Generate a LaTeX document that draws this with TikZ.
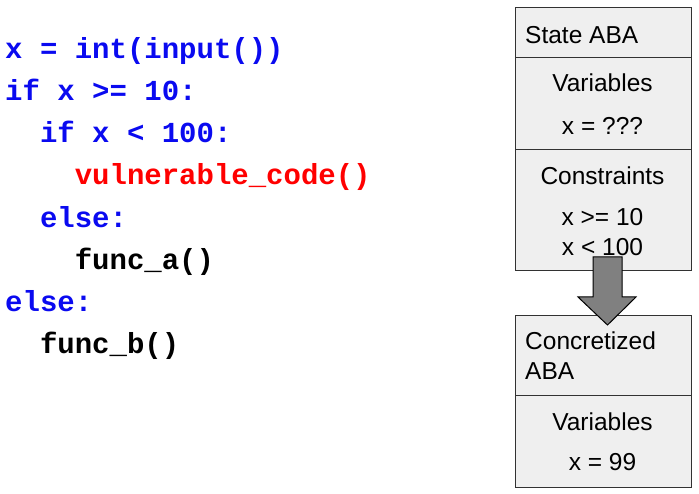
\documentclass[tikz,border=0pt]{standalone}
\usepackage{fontspec}
\setmainfont{Liberation Sans}
\newfontfamily\codefont{Liberation Mono}
\definecolor{codeblue}{RGB}{10,10,240}
\definecolor{codered}{RGB}{255,0,0}
\definecolor{boxfill}{RGB}{239,239,239}
\definecolor{boxline}{RGB}{50,50,50}
\definecolor{arrowfill}{RGB}{128,128,128}
\tikzset{
  code/.style={anchor=base west, inner sep=0pt, font=\codefont\bfseries\fontsize{29}{29}\selectfont},
  lbl/.style={inner sep=0pt, font=\fontsize{24.5}{24.5}\selectfont},
  sect/.style={draw=boxline, line width=1pt, fill=boxfill, minimum width=176pt, anchor=north west, inner sep=0pt},
  bigarrow/.style={draw=black, line width=1pt, fill=arrowfill, line join=miter}
}
\begin{document}
\begin{tikzpicture}[x=1pt,y=-1pt]
\useasboundingbox (0,0) rectangle (699,494);
% code
\node[code, text=codeblue] (l1) at (5,58.3) {x = int(input())};
\node[code, text=codeblue] (l2) at (5,100.5) {if x >= 10:};
\node[code, text=codeblue] (l3) at (5,142.7) {\ \ if x < 100:};
\node[code, text=codered] (l4) at (5,184.9) {\ \ \ \ vulnerable\_code()};
\node[code, text=codeblue] (l5) at (5,227.1) {\ \ else:};
\node[code, text=black] (l6) at (5,269.3) {\ \ \ \ func\_a()};
\node[code, text=codeblue] (l7) at (5,311.5) {else:};
\node[code, text=black] (l8) at (5,353.7) {\ \ func\_b()};
% top box
\node[sect, minimum height=50pt] (s1) at (514.5,7.5) {};
\node[sect, minimum height=91.5pt] (s2) at (514.5,57.5) {};
\node[sect, minimum height=121pt] (s3) at (514.5,149) {};
\node[lbl, anchor=base west] (t1) at (525,44) {State ABA};
\node[lbl, anchor=base] (t2) at (602.5,92) {Variables};
\node[lbl, anchor=base] (t3) at (602.5,135) {x = ???};
\node[lbl, anchor=base] (t4) at (602.5,185) {Constraints};
\node[lbl, anchor=base] (t5) at (602.5,225.5) {x >= 10};
\node[lbl, anchor=base] (t6) at (602.5,256) {x < 100};
% bottom box
\node[sect, minimum height=80pt] (c1) at (514.5,315) {};
\node[sect, minimum height=92pt] (c2) at (514.5,395) {};
\node[lbl, anchor=base west] (u1) at (525,350) {Concretized};
\node[lbl, anchor=base west] (u2) at (525,380) {ABA};
\node[lbl, anchor=base] (u3) at (602.5,430.5) {Variables};
\node[lbl, anchor=base] (u4) at (602.5,470.5) {x = 99};
% arrow
\draw[bigarrow] (593,257) -- (622,257) -- (622,297) -- (636,297) -- (607.5,325) -- (578,297) -- (593,297) -- cycle;
\end{tikzpicture}
\end{document}
